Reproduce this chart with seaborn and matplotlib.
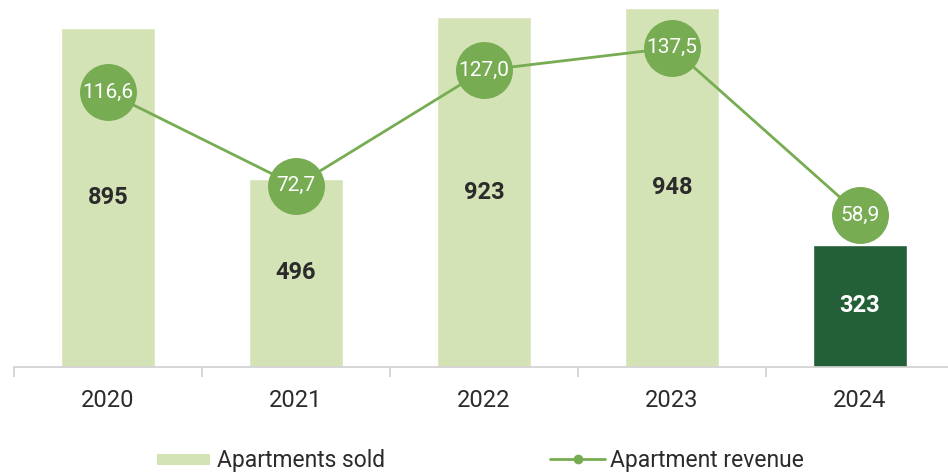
import numpy as np
import pandas as pd
import seaborn as sns
import matplotlib.pyplot as plt
from matplotlib.patches import Patch
from matplotlib.lines import Line2D

years = ['2020', '2021', '2022', '2023', '2024']
apartments_sold = [895, 496, 923, 948, 323]
apartment_revenue = [116.6, 72.7, 127.0, 137.5, 58.9]

light_green = '#d4e3b6'
dark_green = '#235f37'
line_green = '#77ac53'
text_dark = '#2b2b2b'

sns.set_theme(style='white')
plt.rcParams['font.family'] = ['Roboto', 'DejaVu Sans']

fig = plt.figure(figsize=(9.48, 4.75), dpi=100)
ax = fig.add_axes([14 / 948, 108 / 475, 934 / 948, 367 / 475])

df = pd.DataFrame({'year': years, 'sold': apartments_sold})
bar_colors = [light_green] * 4 + [dark_green]
sns.barplot(data=df, x='year', y='sold', hue='year', palette=bar_colors,
            legend=False, width=0.5, saturation=1, ax=ax)

# labels in the middle of the bars
for i, cont in enumerate(ax.containers):
    col = 'white' if years[i] == '2024' else text_dark
    ax.bar_label(cont, labels=[str(apartments_sold[i])], label_type='center',
                 color=col, fontsize=17, fontweight='bold')

ax.set_ylim(0, 968)
ax.set_xlim(-0.5, -0.5 + 934 / 188)
ax.set_xlabel('')
ax.set_ylabel('')
ax.set_yticks([])
for side in ['top', 'right', 'left']:
    ax.spines[side].set_visible(False)
ax.spines['bottom'].set_color('#d0d0d0')
ax.spines['bottom'].set_linewidth(1.2)
ax.set_xticks(np.arange(-0.5, 4.0, 1.0), minor=True)
ax.tick_params(axis='x', which='minor', bottom=True, length=7, width=1.2,
               color='#d0d0d0')
ax.tick_params(axis='x', which='major', length=0, pad=16, labelsize=17,
               labelcolor=text_dark)

# revenue line on a second axis
ax2 = ax.twinx()
sns.lineplot(x=np.arange(len(years)), y=apartment_revenue, ax=ax2,
             color=line_green, linewidth=2, marker='o', markersize=41,
             markeredgewidth=0, zorder=3)
for i, v in enumerate(apartment_revenue):
    ax2.text(i, v, f'{v:.1f}'.replace('.', ','), ha='center', va='center',
             color='white', fontsize=15, zorder=4)
ax2.set_ylim(-12.5, 160)
ax2.set_yticks([])
ax2.set_xlim(ax.get_xlim())
for side in ['top', 'right', 'left', 'bottom']:
    ax2.spines[side].set_visible(False)

# legend, two entries spread across the bottom
h1 = Patch(facecolor=light_green, edgecolor='none')
h2 = Line2D([], [], color=line_green, linewidth=2, marker='o', markersize=6)
fig.legend([h1], ['Apartments sold'], loc='center left',
           bbox_to_anchor=(157 / 948, 14 / 475), frameon=False,
           fontsize=16.5, handlelength=2.3, handleheight=0.4,
           handletextpad=0.3, borderpad=0, borderaxespad=0,
           labelcolor=text_dark)
fig.legend([h2], ['Apartment revenue'], loc='center left',
           bbox_to_anchor=(550 / 948, 14 / 475), frameon=False,
           fontsize=16.5, handlelength=2.4, handletextpad=0.2, borderpad=0,
           borderaxespad=0, labelcolor=text_dark)

fig.savefig('out.png', dpi=100)
